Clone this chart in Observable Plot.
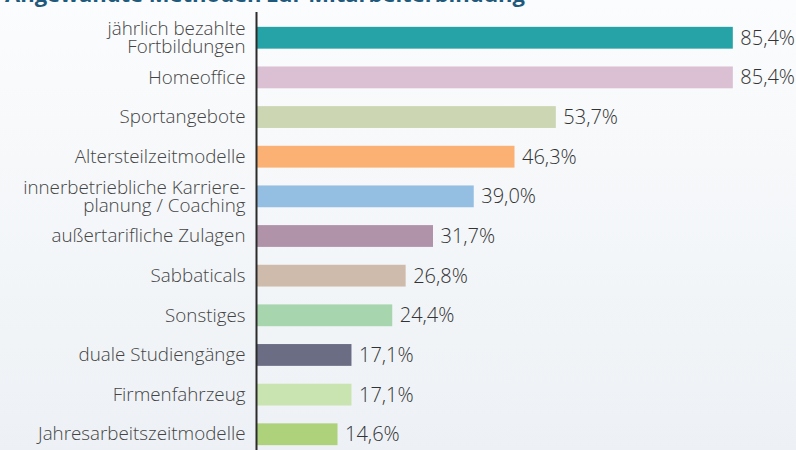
<!DOCTYPE html>
<html>
<head>
<meta charset="utf-8">
<script src="https://cdn.jsdelivr.net/npm/d3@7"></script>
<script src="https://cdn.jsdelivr.net/npm/@observablehq/plot@0.6"></script>
<style>
  html, body { margin: 0; padding: 0; width: 796px; height: 450px; overflow: hidden; }
  body { background: linear-gradient(#fbfcfd, #edf1f5); font-family: "Open Sans", sans-serif; position: relative; }
  #title { position: absolute; left: 5px; top: -18px; font-size: 22px; line-height: 22px; font-weight: 700; color: #1f5a7c; white-space: nowrap; }
  #chart { position: absolute; left: 0; top: 0; }
</style>
</head>
<body>
<div id="title">Angewandte Methoden zur Mitarbeiterbindung</div>
<div id="chart"></div>
<script>
const categories = [
  "jährlich bezahlte\nFortbildungen",
  "Homeoffice",
  "Sportangebote",
  "Altersteilzeitmodelle",
  "innerbetriebliche Karriere-\nplanung / Coaching",
  "außertarifliche Zulagen",
  "Sabbaticals",
  "Sonstiges",
  "duale Studiengänge",
  "Firmenfahrzeug",
  "Jahresarbeitszeitmodelle"
];
const values = [85.4, 85.4, 53.7, 46.3, 39.0, 31.7, 26.8, 24.4, 17.1, 17.1, 14.6];
const colors = ["#26a3a7", "#dbbfd2", "#ccd6b2", "#fbb173", "#95bfe2", "#b093a9", "#cfbbab", "#a6d5ae", "#6b6d85", "#c9e4b0", "#aed27b"];

const data = categories.map((c, i) => ({label: c, value: values[i], color: colors[i]}));
const fmt = v => v.toFixed(1).replace(".", ",") + "%";

const chart = Plot.plot({
  width: 796,
  height: 463,
  marginTop: 9,
  marginBottom: 0,
  marginLeft: 256,
  marginRight: 4,
  style: {background: "transparent", fontFamily: "Open Sans, sans-serif"},
  x: {domain: [0, 96], axis: null},
  y: {domain: categories, padding: 0.45, round: false, axis: null},
  marks: [
    Plot.barX(data, {x: "value", y: "label", fill: d => d.color}),
    Plot.ruleX([0], {stroke: "#2b2b2b", strokeWidth: 2, insetTop: 3}),
    Plot.text(data, {x: 0, y: "label", text: "label", textAnchor: "end", dx: -11, fontSize: 18.8, lineHeight: 0.95, fill: "#444", fontWeight: 300}),
    Plot.text(data, {x: "value", y: "label", text: d => fmt(d.value), textAnchor: "start", dx: 7, fontSize: 20, fill: "#333", fontWeight: 300})
  ]
});
document.getElementById("chart").appendChild(chart);
</script>
</body>
</html>
